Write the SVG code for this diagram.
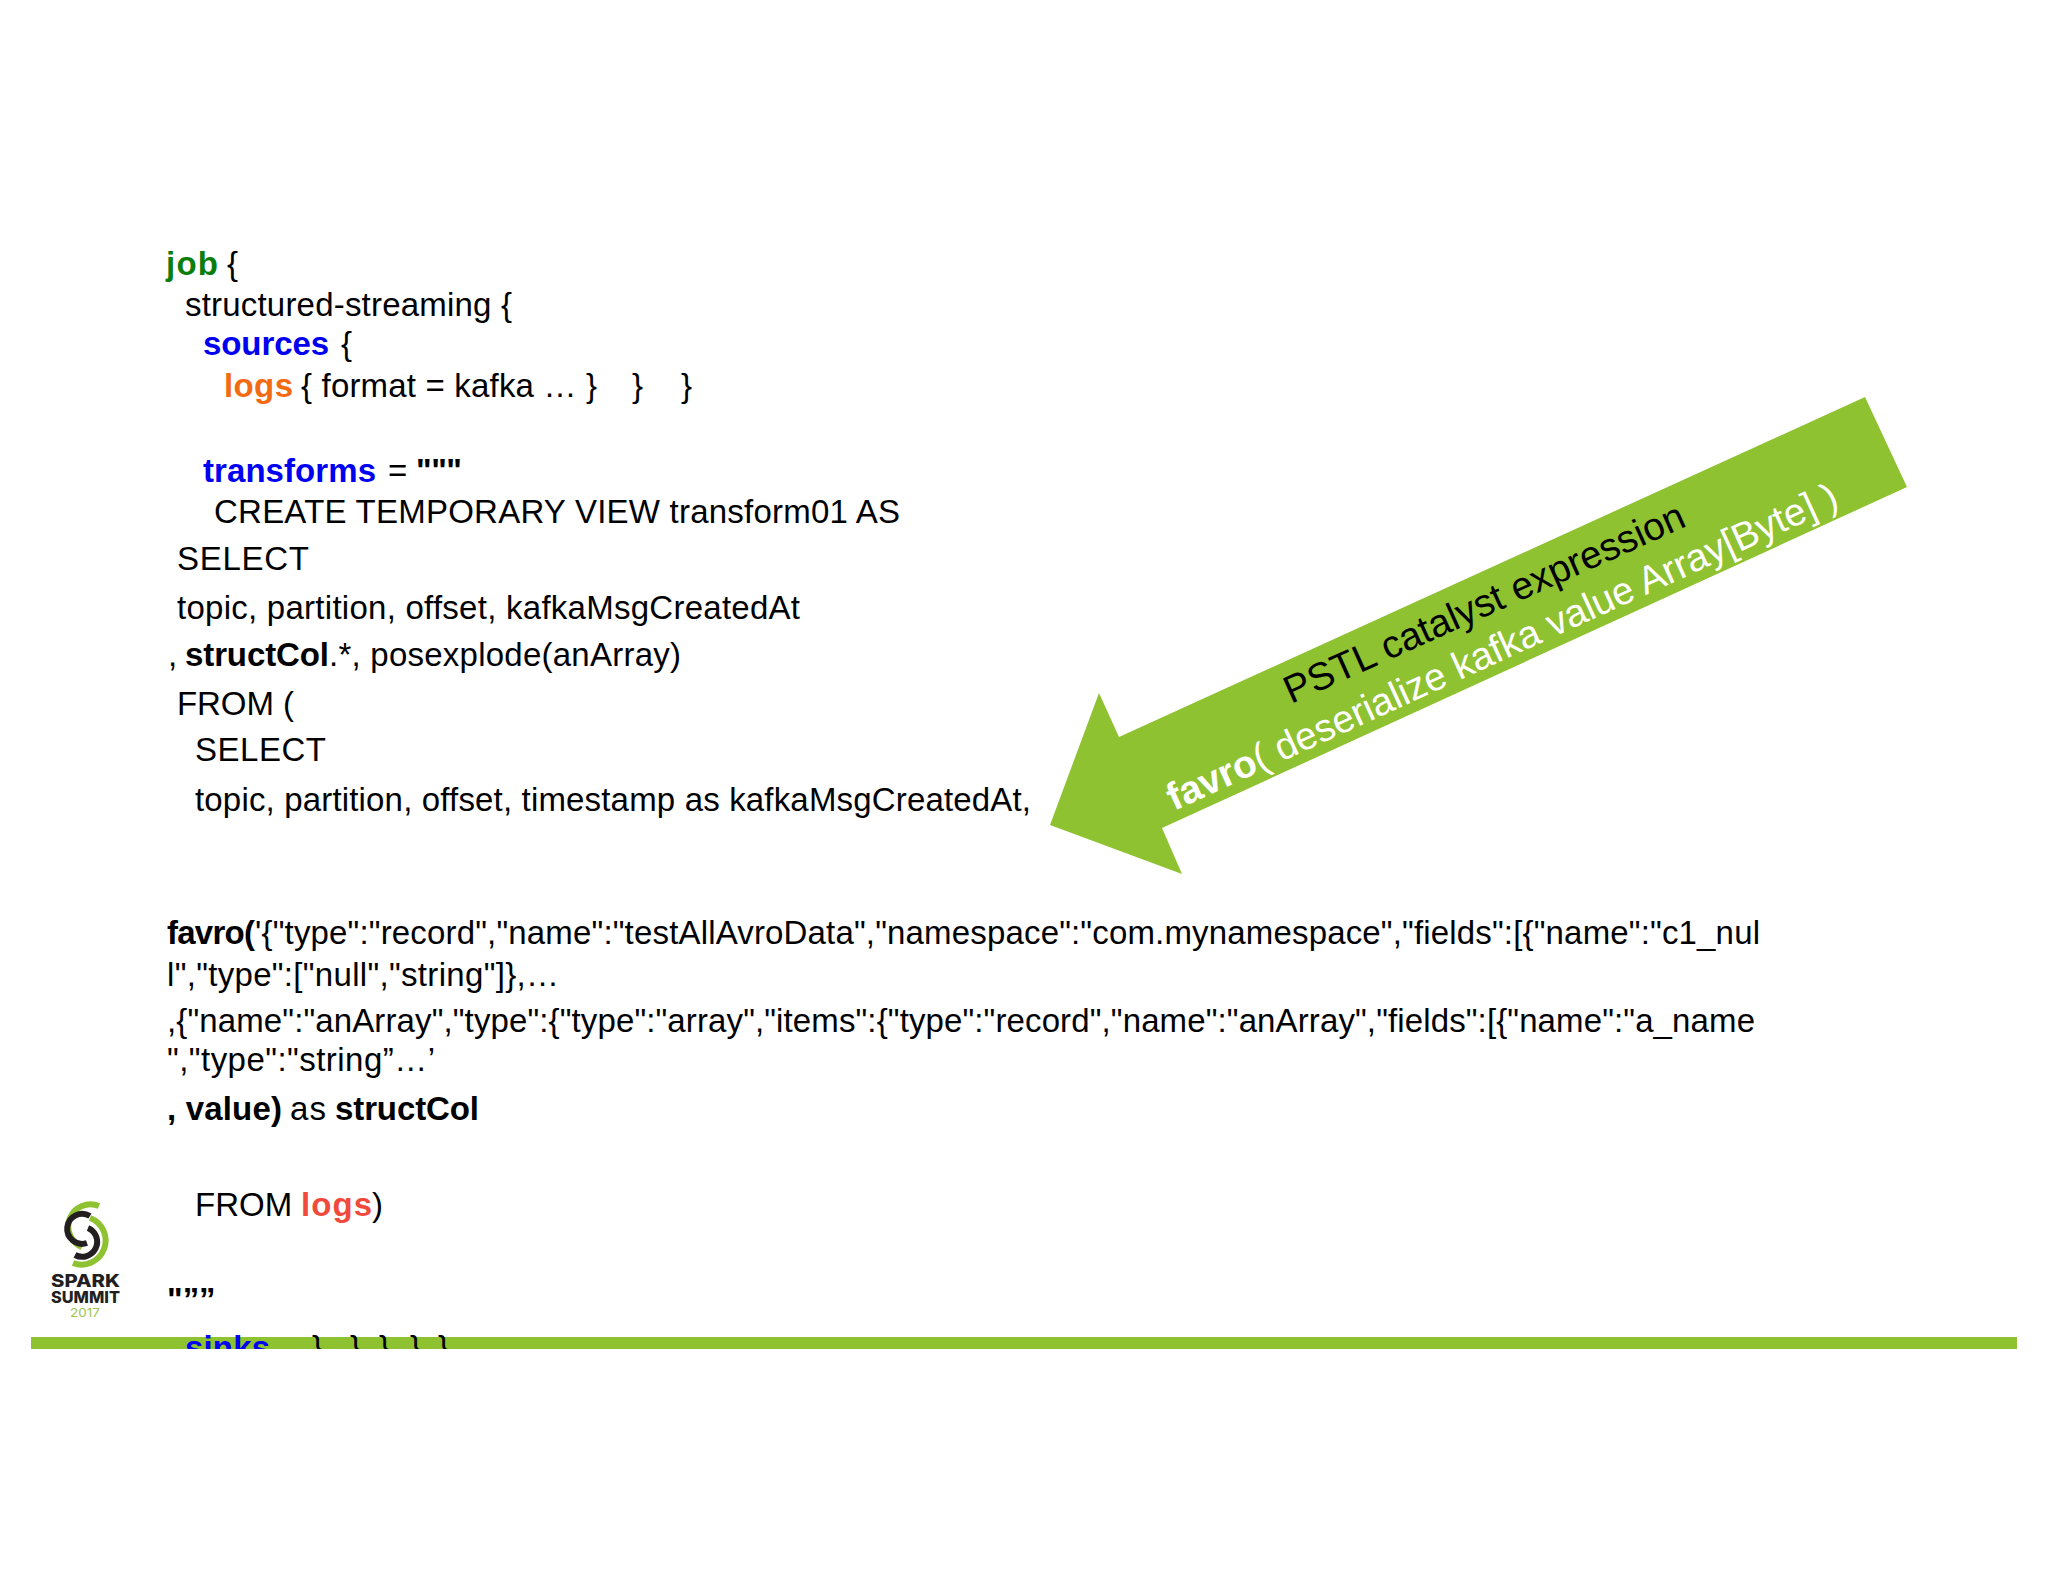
<svg xmlns="http://www.w3.org/2000/svg" width="2048" height="1582" viewBox="0 0 2048 1582">
<style>
text{font-family:"Liberation Sans",Arial,sans-serif;font-size:33px;fill:#000}
.b{font-weight:bold}
.blue{fill:#0000f0;font-weight:bold}
.big{font-size:38.7px}
.arc{fill:none;stroke-width:6}
.logotext{font-family:Inter,"Liberation Sans",sans-serif;font-weight:800;fill:#231f20}
</style>
<defs><clipPath id="barclip"><rect x="0" y="1300" width="2048" height="49"/></clipPath></defs>
<rect width="2048" height="1582" fill="#fff"/>
<g id="footer-bar"><rect x="31" y="1337" width="1986" height="12" fill="#8fc231"/></g>
<g id="code-top">
<text x="166" y="275" class="b" style="fill:#0a7d0a" textLength="52">job</text><text x="227" y="275">{</text>
<text x="185" y="316" textLength="327">structured-streaming {</text>
<text x="203" y="355" class="blue" textLength="126">sources</text><text x="341" y="355">{</text>
<text x="224" y="397" class="b" style="fill:#f26a12" textLength="69">logs</text><text x="301" y="397" textLength="296">{ format = kafka … }</text><text x="632" y="397">}</text><text x="681" y="397">}</text>
<text x="203" y="482" class="blue" textLength="173">transforms</text><text x="388" y="482">=</text><text x="416" y="482" class="b" textLength="46">"""</text>
<text x="214" y="523" textLength="686">CREATE TEMPORARY VIEW transform01 AS</text>
<text x="177" y="570" textLength="132">SELECT</text>
<text x="177" y="619" textLength="623">topic, partition, offset, kafkaMsgCreatedAt</text>
<text x="168" y="666">,</text><text x="185" y="666" class="b" textLength="144">structCol</text><text x="329" y="666" textLength="352">.*, posexplode(anArray)</text>
<text x="177" y="715" textLength="117">FROM (</text>
<text x="195" y="761" textLength="131">SELECT</text>
<text x="195" y="811" textLength="836">topic, partition, offset, timestamp as kafkaMsgCreatedAt,</text>
</g>
<g id="code-favro">
<text x="167" y="944" class="b" textLength="88">favro(</text><text x="255" y="944" textLength="1505">'{"type":"record","name":"testAllAvroData","namespace":"com.mynamespace","fields":[{"name":"c1_nul</text>
<text x="167" y="986" textLength="392">l","type":["null","string"]},…</text>
<text x="167" y="1032" textLength="1588">,{"name":"anArray","type":{"type":"array","items":{"type":"record","name":"anArray","fields":[{"name":"a_name</text>
<text x="167" y="1071" textLength="268">","type":"string”…’</text>
<text x="167" y="1120" class="b" textLength="115">, value)</text><text x="290" y="1120" textLength="36">as</text><text x="335" y="1120" class="b" textLength="144">structCol</text>
<text x="195" y="1216">FROM</text><text x="301" y="1216" class="b" style="fill:#f04a3c" textLength="71">logs</text><text x="372" y="1216">)</text>
<text x="167" y="1311" class="b">"”</text><text x="199" y="1311" class="b">”</text>
</g>
<g id="code-sinks" clip-path="url(#barclip)">
<text x="185" y="1359" class="blue" textLength="85">sinks</text>
<text x="312" y="1359">}</text><text x="350" y="1359">}</text><text x="379" y="1359">}</text><text x="410" y="1359">}</text><text x="438" y="1359">}</text>
</g>
<g id="arrow">
<polygon points="1865,397 1907,487 1162,828 1182,874 1050,825 1099,693 1119,737" fill="#8fc231"/>
<text class="big" transform="translate(1291,704) rotate(-24.2)">PSTL catalyst expression</text>
<text class="big" transform="translate(1174,811) rotate(-24.6)" style="fill:#fff"><tspan class="b">favro</tspan>( deserialize kafka value Array[Byte] )</text>
</g>
<g id="logo">
<path class="arc" stroke="#8fc231" d="M99,1206 A22,22 0 1 0 82,1247"/>
<path class="arc" stroke="#8fc231" d="M73,1263 A24,24 0 1 0 90,1218"/>
<path class="arc" stroke="#231f20" d="M90,1216 A15,15 0 1 0 87,1243"/>
<path class="arc" stroke="#231f20" d="M75,1255 A15,15 0 1 0 88,1228"/>
<text x="51" y="1287" class="logotext" style="font-size:17px" textLength="69" lengthAdjust="spacingAndGlyphs">SPARK</text>
<text x="51" y="1303" class="logotext" style="font-size:15.5px" textLength="69" lengthAdjust="spacingAndGlyphs">SUMMIT</text>
<text x="70" y="1317" style="font-family:Inter,'Liberation Sans',sans-serif;font-size:12px;fill:#9cc64f" textLength="30" lengthAdjust="spacingAndGlyphs">2017</text>
</g>
</svg>
